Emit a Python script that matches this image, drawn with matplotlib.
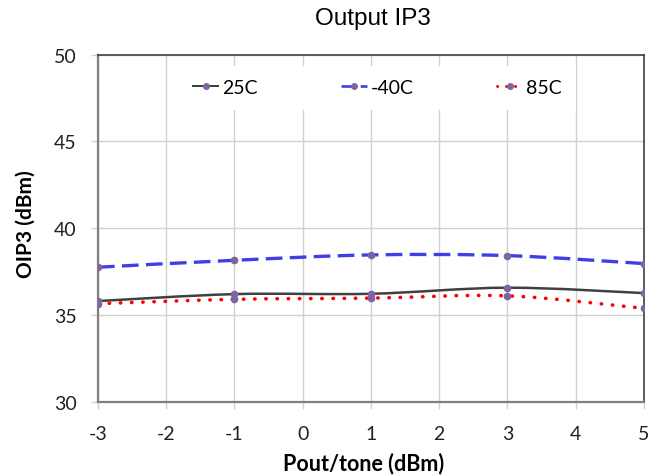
import matplotlib
matplotlib.use("Agg")
import matplotlib.pyplot as plt
from matplotlib.path import Path
from matplotlib.patches import PathPatch
from matplotlib.lines import Line2D
import numpy as np

pout = [-3, -1, 1, 3, 5]
oip3_25c = [35.80, 36.20, 36.22, 36.57, 36.26]
oip3_m40c = [37.75, 38.15, 38.46, 38.42, 37.96]
oip3_85c = [35.65, 35.90, 35.97, 36.10, 35.38]
series_names = ["25C", "-40C", "85C"]
xticks = [-3, -2, -1, 0, 1, 2, 3, 4, 5]
yticks = [30, 35, 40, 45, 50]

plt.rcParams['font.family'] = ['Lato', 'DejaVu Sans']

fig = plt.figure(figsize=(6.63, 4.77), dpi=100)
ax = fig.add_axes([0.1478, 0.1558, 0.9713 - 0.1478, 0.8832 - 0.1558])


def smooth_path(xs, ys):
    pts = np.column_stack([xs, ys]).astype(float)
    n = len(pts)
    verts = [pts[0]]
    codes = [Path.MOVETO]
    for i in range(n - 1):
        p0 = pts[i - 1] if i > 0 else pts[i]
        p1 = pts[i]
        p2 = pts[i + 1]
        p3 = pts[i + 2] if i + 2 < n else pts[i + 1]
        c1 = p1 + (p2 - p0) / 6.0
        c2 = p2 - (p3 - p1) / 6.0
        verts += [c1, c2, p2]
        codes += [Path.CURVE4] * 3
    return Path(verts, codes)


styles = [
    dict(color="#404040", lw=1.8, ls="-", capstyle="butt"),
    dict(color="#3F3FE6", lw=2.4, ls=(0, (5, 2.2)), capstyle="butt"),
    dict(color="#FF0000", lw=2.6, ls=(0, (0.1, 3.0)), capstyle="round"),
]
datasets = [oip3_25c, oip3_m40c, oip3_85c]
marker_color = "#8064A2"

for ys, st in zip(datasets, styles):
    patch = PathPatch(smooth_path(pout, ys), fill=False, edgecolor=st["color"],
                      lw=st["lw"], linestyle=st["ls"], capstyle=st["capstyle"], zorder=3)
    ax.add_patch(patch)
for ys in datasets:
    ax.plot(pout, ys, linestyle="none", marker="o", markersize=4.5,
            color=marker_color, zorder=4)

ax.set_xlim(-3, 5)
ax.set_ylim(30, 50)
ax.set_xticks(xticks)
ax.set_yticks(yticks)
ax.set_xticklabels([str(t) for t in xticks])
ax.set_yticklabels([str(t) for t in yticks])
ax.grid(True, color="#d0d0d0", lw=1.0, zorder=0)
ax.set_axisbelow(True)
ax.tick_params(axis="both", length=5, width=1.0, color="#d0d0d0",
               labelsize=14, labelcolor="#222222")
ax.tick_params(axis="x", pad=12)
ax.tick_params(axis="y", pad=10.5)
for s in ["left", "bottom"]:
    ax.spines[s].set_color("#808080")
    ax.spines[s].set_linewidth(1.6)
for s in ["top", "right"]:
    ax.spines[s].set_color("#404040")
    ax.spines[s].set_linewidth(1.2)

ax.set_xlabel("Pout/tone (dBm)", fontsize=15.5, fontweight="bold")
ax.set_ylabel("OIP3 (dBm)", fontsize=15, fontweight="bold")
ax.xaxis.set_label_coords(0.487, -0.143)
ax.yaxis.set_label_coords(-0.115, 0.515)
fig.text(0.562, 0.96, "Output IP3", fontsize=17.5, family="Liberation Sans",
         ha="center", va="center")

handles = []
for st in styles:
    handles.append(Line2D([0], [0], color=st["color"], lw=st["lw"] * 0.8,
                          linestyle=st["ls"],
                          marker="o", markersize=4, markerfacecolor=marker_color,
                          markeredgecolor=marker_color, dash_capstyle=st["capstyle"]))
leg = ax.legend(handles, series_names, loc="center", bbox_to_anchor=(0.512, 0.905),
                ncol=3, frameon=True, fontsize=14, handlelength=1.3,
                handletextpad=0.2, columnspacing=4.3, borderpad=0.7,
                fancybox=False, edgecolor="none", facecolor="white", framealpha=1)
leg.set_zorder(5)

fig.savefig("out.png", dpi=100)
